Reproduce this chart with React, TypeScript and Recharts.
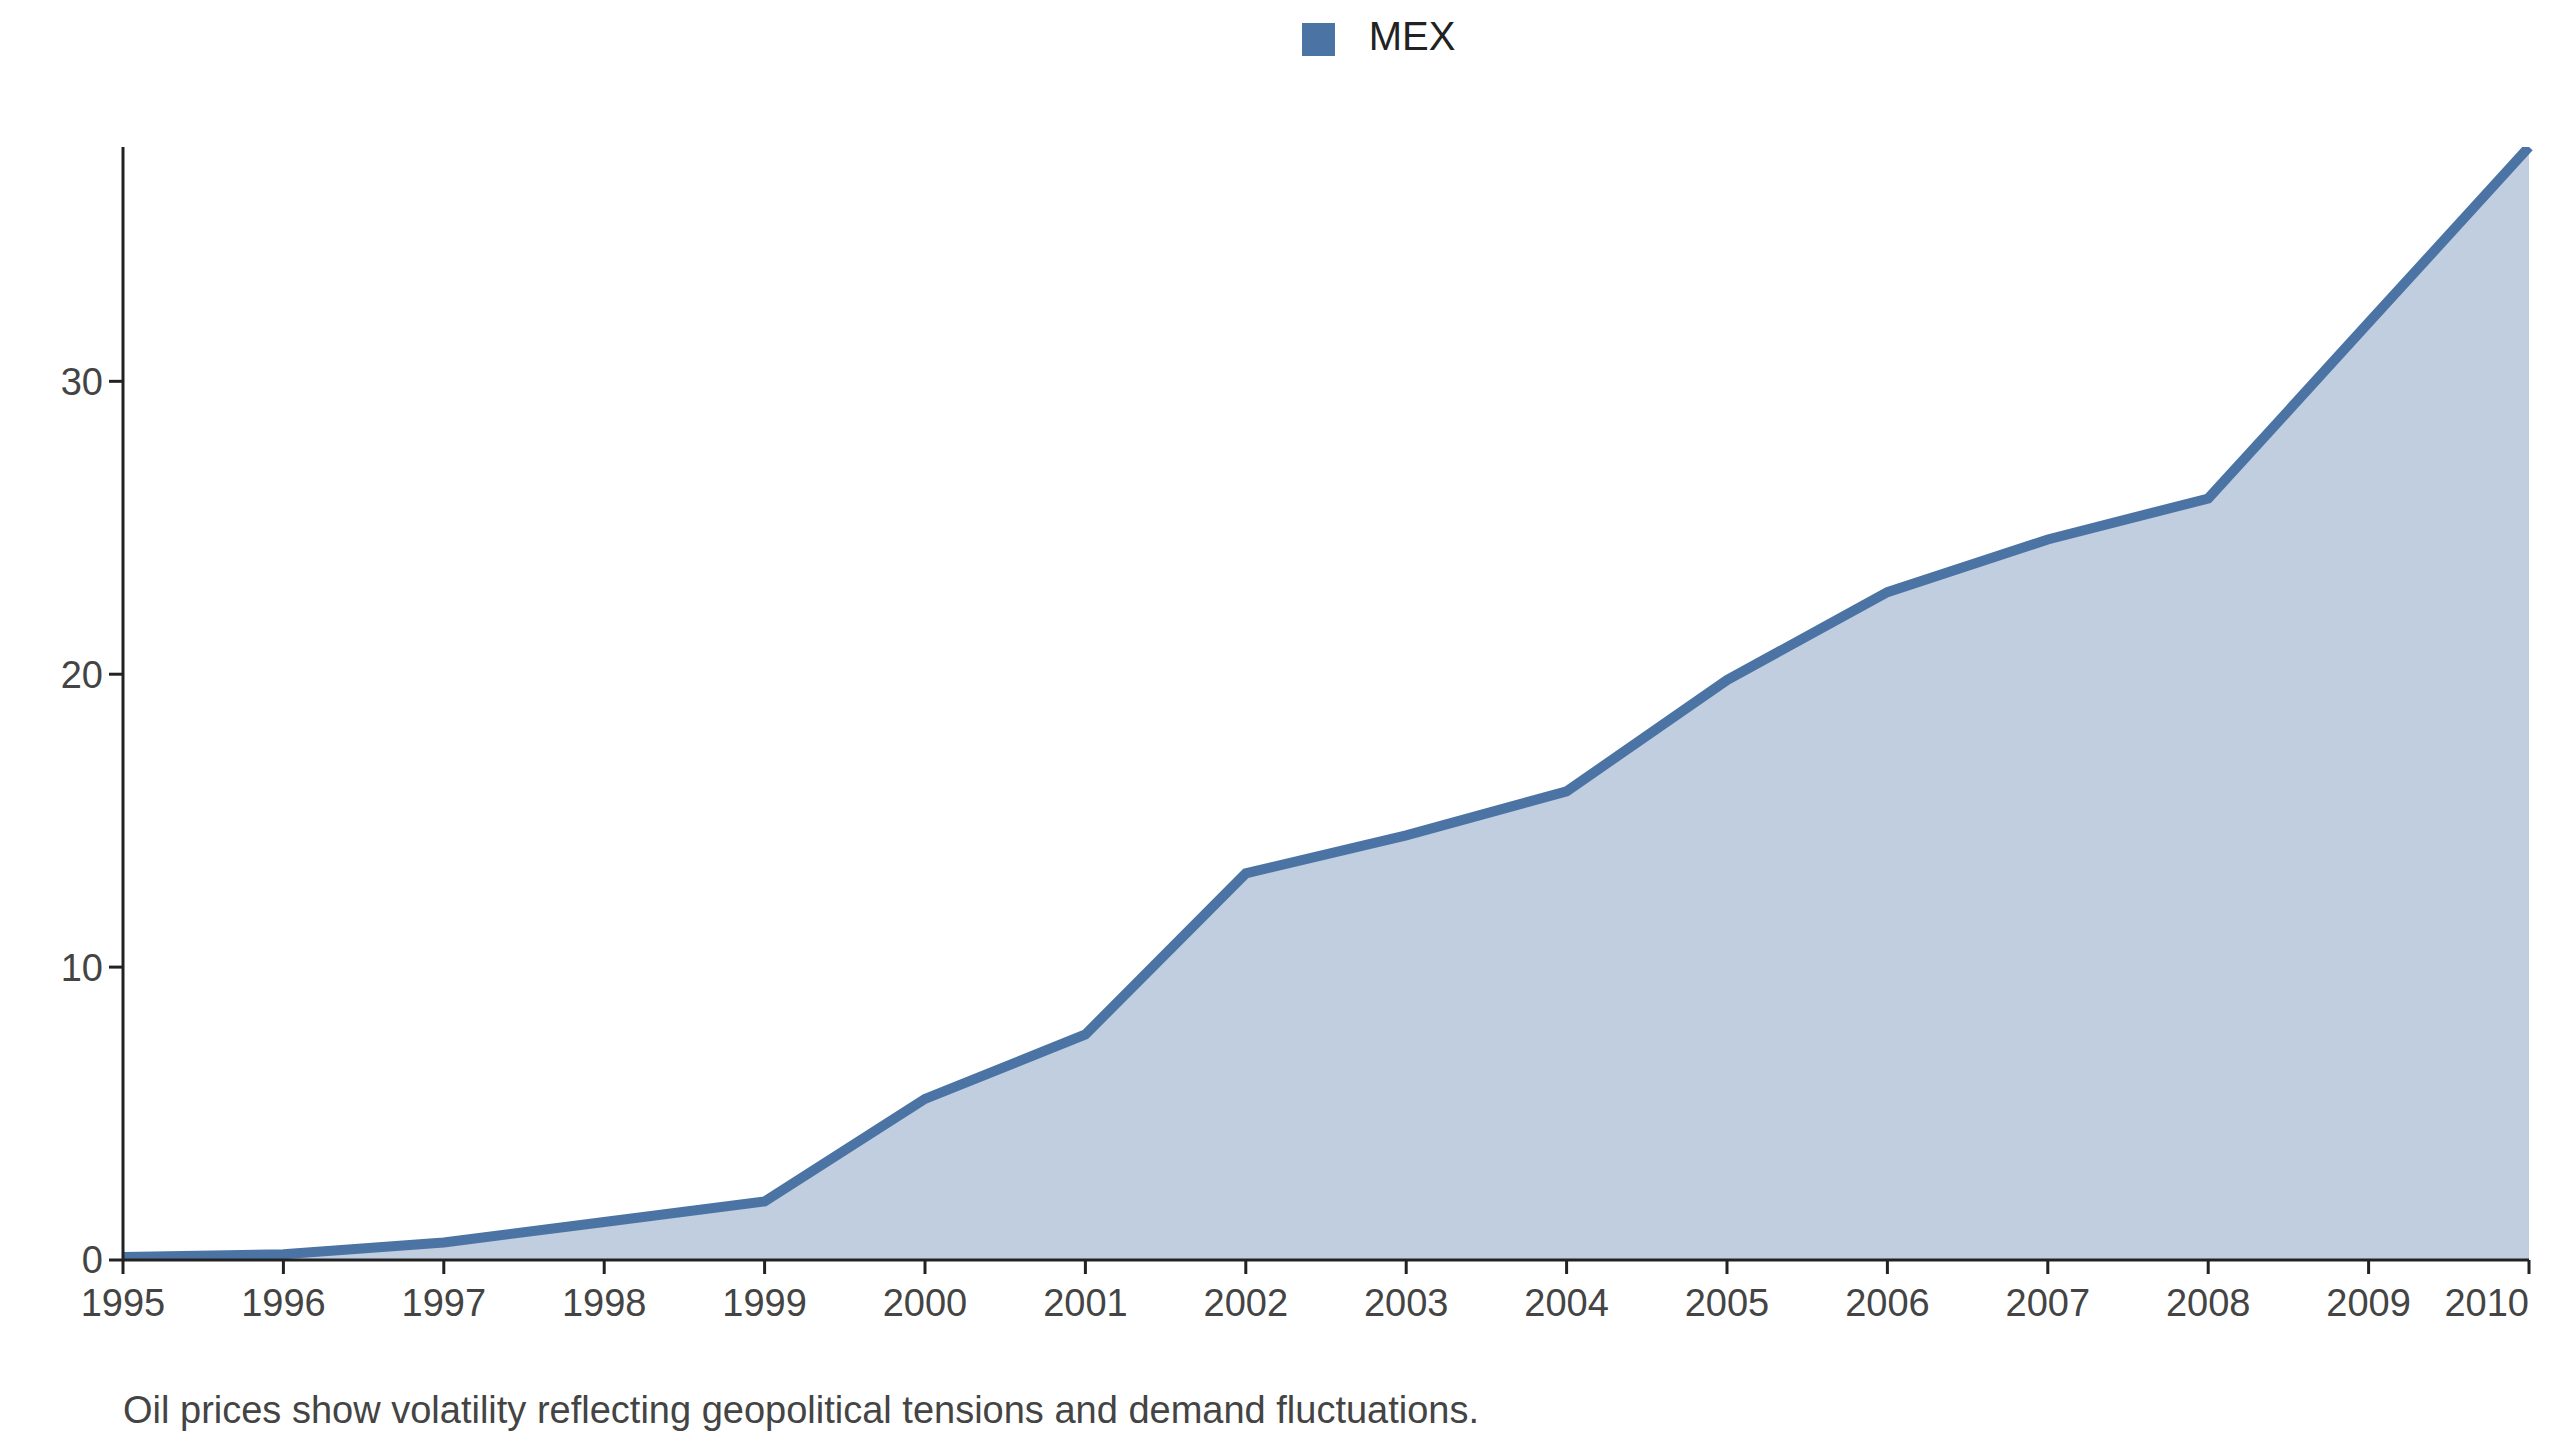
import { AreaChart, Area, XAxis, YAxis, Legend } from "recharts"

const years = ["1995", "1996", "1997", "1998", "1999", "2000", "2001", "2002", "2003", "2004", "2005", "2006", "2007", "2008", "2009", "2010"]
const mex = [0.1, 0.2, 0.6, 1.3, 2.0, 5.5, 7.7, 13.2, 14.5, 16.0, 19.8, 22.8, 24.6, 26.0, 32.0, 38.0]
const yTicks = [0, 10, 20, 30]

const data = years.map((year, i) => ({ year, MEX: mex[i] }))

const font = "Liberation Sans, Arial, sans-serif"
const tickStyle = { fontSize: 38, fill: "#444", fontFamily: font }

function XTick(props: any) {
  const { x, y, payload, index } = props
  const last = index === years.length - 1
  return (
    <text x={x} y={y + 40} textAnchor={last ? "end" : "middle"} {...tickStyle}>
      {payload.value}
    </text>
  )
}

export default function App() {
  return (
    <div style={{ fontFamily: font }}>
      <AreaChart width={2544} height={1330} data={data} margin={{ top: 94, right: 23, left: 0, bottom: 18 }}>
        <Legend
          verticalAlign="top"
          align="center"
          iconType="square"
          iconSize={33}
          wrapperStyle={{ top: 6, fontSize: 40, paddingLeft: 115 }}
          formatter={(v) => <span style={{ color: "#222", marginLeft: 30 }}>{v}</span>}
        />
        <XAxis dataKey="year" tick={<XTick />} stroke="#222" strokeWidth={3} tickSize={14} height={60} interval={0} />
        <YAxis width={115} domain={[0, 38]} ticks={yTicks} tick={tickStyle} stroke="#222" strokeWidth={3} tickSize={14} tickMargin={6} allowDataOverflow />
        <Area
          type="linear"
          dataKey="MEX"
          stroke="#4b74a5"
          strokeWidth={10}
          fill="#4b74a5"
          fillOpacity={0.35}
          isAnimationActive={false}
        />
      </AreaChart>
      <div style={{ marginLeft: 115, marginTop: 50, fontSize: 38, lineHeight: "44px", color: "#444" }}>
        Oil prices show volatility reflecting geopolitical tensions and demand fluctuations.
      </div>
    </div>
  )
}
